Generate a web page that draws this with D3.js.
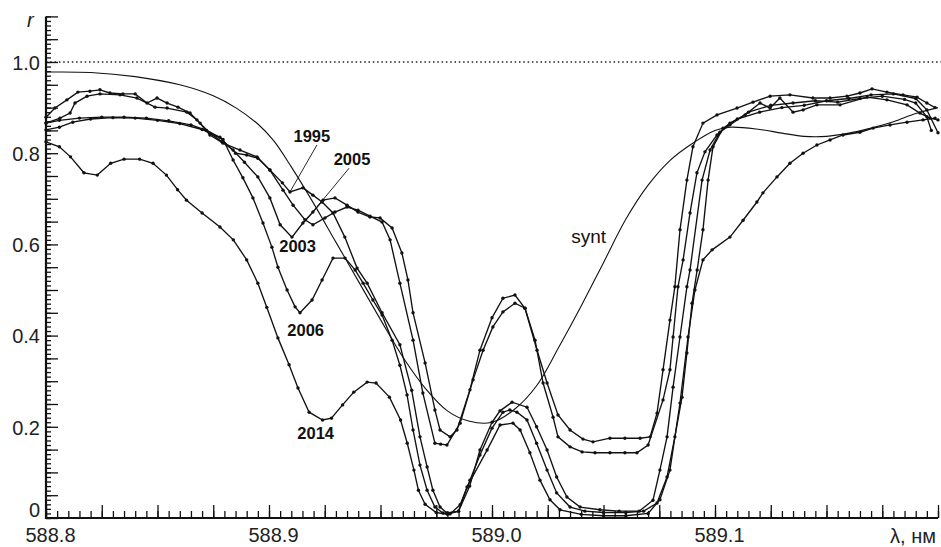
<!doctype html>
<html lang="en">
  <head>
    <meta charset="utf-8">
    <title>Na D line profiles</title>
    <script src="https://cdn.jsdelivr.net/npm/d3@7"></script>
    <style>
      body { margin: 0; background: #fff; }
      text { font-family: "Liberation Sans", Arial, sans-serif; }
    </style>
  </head>
  <body>
    <script>
      // wavelength (nm) and relative intensity for each year
      const lam1995 = [588.800, 588.806, 588.815, 588.825, 588.835, 588.845, 588.855, 588.865, 588.872, 588.878,
        588.885, 588.890, 588.895, 588.9004, 588.906, 588.9094, 588.9152, 588.9197, 588.9238, 588.9287,
        588.934, 588.9395, 588.944, 588.9507, 588.9587, 588.964, 588.9677, 588.9709, 588.9735, 588.9767,
        588.9798, 588.985, 588.990, 588.9946, 589.000, 589.0036, 589.009, 589.0157, 589.020, 589.0247,
        589.029, 589.0336, 589.0395, 589.0484, 589.057, 589.066, 589.0722, 589.0753, 589.0785, 589.0812,
        589.0843, 589.0874, 589.0888, 589.0942, 589.0978, 589.1022, 589.1067, 589.115, 589.125, 589.135,
        589.145, 589.155, 589.165, 589.175, 589.185, 589.190, 589.195, 589.197];
      const r1995 = [0.866, 0.872, 0.877, 0.879, 0.879, 0.877, 0.871, 0.862, 0.850, 0.835,
        0.800, 0.796, 0.789, 0.763, 0.735, 0.715, 0.724, 0.708, 0.693, 0.669,
        0.616, 0.548, 0.515, 0.450, 0.380, 0.280, 0.178, 0.112, 0.061, 0.024,
        0.011, 0.015, 0.070, 0.149, 0.210, 0.235, 0.254, 0.243, 0.200, 0.149,
        0.090, 0.046, 0.024, 0.018, 0.015, 0.015, 0.039, 0.105, 0.178, 0.287,
        0.397, 0.507, 0.544, 0.741, 0.807, 0.846, 0.862, 0.890, 0.905, 0.910,
        0.915, 0.912, 0.920, 0.925, 0.918, 0.910, 0.880, 0.850];

      const lam2003 = [588.800, 588.804, 588.8094, 588.8143, 588.8197, 588.8242, 588.8287, 588.8345, 588.840, 588.8453,
        588.8498, 588.8543, 588.8592, 588.8646, 588.8691, 588.8735, 588.8789, 588.8839, 588.889, 588.895,
        588.9004, 588.905, 588.9103, 588.9152, 588.9197, 588.9242, 588.9296, 588.935, 588.9399, 588.9453,
        588.9498, 588.9552, 588.9596, 588.9623, 588.9646, 588.970, 588.9744, 588.9767, 588.9812, 588.9843,
        588.9901, 588.9946, 589.000, 589.0049, 589.0103, 589.0148, 589.0202, 589.0247, 589.0296, 589.035,
        589.0408, 589.0453, 589.0529, 589.0596, 589.0664, 589.0709, 589.074, 589.0767, 589.0798, 589.082,
        589.0843, 589.0874, 589.0901, 589.0946, 589.1009, 589.1099, 589.117, 589.1247, 589.1336, 589.1439,
        589.1516, 589.1592, 589.165, 589.1704, 589.1771, 589.1843, 589.1906, 589.195, 589.1987];
      const r2003 = [0.879, 0.899, 0.917, 0.934, 0.936, 0.939, 0.932, 0.930, 0.930, 0.910,
        0.921, 0.910, 0.901, 0.888, 0.866, 0.844, 0.825, 0.807, 0.780, 0.748,
        0.702, 0.643, 0.616, 0.647, 0.671, 0.697, 0.702, 0.686, 0.671, 0.660,
        0.658, 0.636, 0.581, 0.522, 0.450, 0.340, 0.237, 0.193, 0.178, 0.193,
        0.281, 0.368, 0.439, 0.482, 0.489, 0.460, 0.368, 0.296, 0.226, 0.193,
        0.173, 0.167, 0.175, 0.175, 0.175, 0.178, 0.230, 0.325, 0.434, 0.507,
        0.632, 0.741, 0.814, 0.866, 0.884, 0.899, 0.912, 0.925, 0.928, 0.921,
        0.921, 0.925, 0.932, 0.941, 0.934, 0.928, 0.923, 0.910, 0.900];

      const lam2005 = [588.800, 588.8063, 588.8108, 588.813, 588.8184, 588.8242, 588.8332, 588.8408, 588.8489, 588.8543,
        588.8632, 588.8677, 588.8735, 588.8794, 588.887, 588.8946, 588.9004, 588.9063, 588.9108, 588.9161,
        588.9197, 588.9251, 588.9296, 588.935, 588.9399, 588.9453, 588.9507, 588.9543, 588.9587, 588.9646,
        588.969, 588.9744, 588.977, 588.9798, 588.9857, 588.9915, 588.996, 589.0004, 589.0049, 589.0103,
        589.0148, 589.0193, 589.0229, 589.0274, 589.0296, 589.035, 589.0404, 589.0462, 589.0529, 589.0596,
        589.065, 589.070, 589.0767, 589.0798, 589.0812, 589.0834, 589.0857, 589.0888, 589.0919, 589.0955,
        589.1009, 589.1067, 589.1135, 589.1202, 589.1247, 589.1291, 589.135, 589.1395, 589.1457, 589.1561,
        589.1682, 589.1771, 589.1861, 589.1919, 589.1964, 589.200];
      const r2005 = [0.866, 0.877, 0.888, 0.910, 0.925, 0.930, 0.928, 0.921, 0.901, 0.899,
        0.890, 0.873, 0.840, 0.822, 0.807, 0.792, 0.763, 0.719, 0.686, 0.654,
        0.643, 0.658, 0.671, 0.682, 0.675, 0.662, 0.649, 0.610, 0.515, 0.390,
        0.274, 0.164, 0.162, 0.160, 0.208, 0.303, 0.368, 0.419, 0.452, 0.471,
        0.460, 0.390, 0.296, 0.221, 0.178, 0.156, 0.145, 0.143, 0.143, 0.143,
        0.143, 0.160, 0.259, 0.325, 0.397, 0.507, 0.566, 0.669, 0.757, 0.803,
        0.840, 0.866, 0.884, 0.910, 0.899, 0.921, 0.890, 0.895, 0.906, 0.906,
        0.923, 0.917, 0.906, 0.888, 0.877, 0.873];

      const lam2006 = [588.800, 588.806, 588.812, 588.820, 588.830, 588.840, 588.850, 588.860, 588.870, 588.8794,
        588.8839, 588.8883, 588.8928, 588.8973, 588.9013, 588.904, 588.9081, 588.9117, 588.9139, 588.9193,
        588.9238, 588.9287, 588.9341, 588.9386, 588.9422, 588.9466, 588.9507, 588.9552, 588.9587, 588.9619,
        588.9646, 588.9677, 588.9709, 588.9744, 588.978, 588.9812, 588.9857, 588.9901, 588.9946, 589.000,
        589.0049, 589.008, 589.0112, 589.0157, 589.020, 589.0247, 589.029, 589.035, 589.0417, 589.050,
        589.060, 589.068, 589.074, 589.0785, 589.082, 589.0852, 589.0874, 589.0897, 589.092, 589.0946,
        589.0969, 589.0991, 589.1036, 589.110, 589.120, 589.130, 589.140, 589.150, 589.160, 589.170,
        589.180, 589.190, 589.195, 589.200];
      const r2006 = [0.851, 0.857, 0.868, 0.875, 0.878, 0.877, 0.872, 0.865, 0.852, 0.830,
        0.785, 0.746, 0.702, 0.647, 0.594, 0.550, 0.500, 0.463, 0.450, 0.478,
        0.522, 0.570, 0.570, 0.544, 0.515, 0.478, 0.445, 0.390, 0.335, 0.270,
        0.193, 0.116, 0.061, 0.024, 0.011, 0.009, 0.029, 0.083, 0.138, 0.197,
        0.232, 0.237, 0.232, 0.215, 0.164, 0.105, 0.055, 0.024, 0.015, 0.012,
        0.012, 0.015, 0.033, 0.090, 0.178, 0.265, 0.362, 0.471, 0.544, 0.632,
        0.741, 0.814, 0.855, 0.875, 0.890, 0.900, 0.905, 0.915, 0.920, 0.928,
        0.930, 0.920, 0.895, 0.845];

      const lam2014 = [588.800, 588.806, 588.811, 588.817, 588.823, 588.829, 588.835, 588.842, 588.848, 588.854,
        588.859, 588.863, 588.870, 588.878, 588.884, 588.890, 588.895, 588.899, 588.904, 588.909,
        588.913, 588.918, 588.924, 588.928, 588.933, 588.938, 588.944, 588.948, 588.954, 588.959,
        588.962, 588.965, 588.967, 588.970, 588.975, 588.980, 588.985, 588.9888, 588.9978, 589.0036,
        589.0094, 589.0126, 589.017, 589.0215, 589.026, 589.0305, 589.040, 589.050, 589.060, 589.070,
        589.0753, 589.0798, 589.0843, 589.0879, 589.091, 589.0946, 589.0987, 589.1067, 589.1126, 589.1188,
        589.1215, 589.1278, 589.1336, 589.1395, 589.1457, 589.1516, 589.1574, 589.165, 589.1709, 589.1785,
        589.1861, 589.1933, 589.1987];
      const r2014 = [0.825, 0.814, 0.792, 0.757, 0.752, 0.778, 0.787, 0.787, 0.778, 0.752,
        0.720, 0.697, 0.669, 0.638, 0.610, 0.566, 0.515, 0.462, 0.395, 0.336,
        0.285, 0.232, 0.215, 0.219, 0.248, 0.276, 0.298, 0.296, 0.265, 0.215,
        0.164, 0.105, 0.061, 0.030, 0.012, 0.008, 0.015, 0.068, 0.149, 0.204,
        0.208, 0.193, 0.143, 0.083, 0.040, 0.018, 0.008, 0.005, 0.005, 0.010,
        0.040, 0.105, 0.252, 0.397, 0.500, 0.566, 0.588, 0.616, 0.653, 0.693,
        0.713, 0.748, 0.778, 0.800, 0.818, 0.829, 0.840, 0.846, 0.855, 0.862,
        0.868, 0.873, 0.877];

      // synthetic profile
      const lamSynt = [588.80, 588.82, 588.84, 588.86, 588.875, 588.885, 588.895, 588.902, 588.91, 588.92,
        588.93, 588.94, 588.95, 588.96, 588.97, 588.98, 588.99, 589.00, 589.01, 589.02,
        589.03, 589.04, 589.05, 589.06, 589.07, 589.08, 589.09, 589.10, 589.107, 589.12,
        589.13, 589.14, 589.15, 589.16, 589.17, 589.18, 589.19, 589.20];
      const rSynt = [0.978, 0.977, 0.968, 0.950, 0.926, 0.900, 0.864, 0.828, 0.770, 0.690,
        0.605, 0.520, 0.435, 0.353, 0.285, 0.235, 0.212, 0.210, 0.238, 0.290,
        0.375, 0.465, 0.560, 0.655, 0.730, 0.785, 0.822, 0.850, 0.857, 0.852,
        0.844, 0.837, 0.837, 0.844, 0.855, 0.869, 0.887, 0.900];

      const xTicks = [588.8, 588.9, 589.0, 589.1];
      const yTicks = [0, 0.2, 0.4, 0.6, 0.8, 1.0];
      const yTickLabels = ["0", "0.2", "0.4", "0.6", "0.8", "1.0"];

      const series = [
        {name: "1995", lam: lam1995, r: r1995},
        {name: "2003", lam: lam2003, r: r2003},
        {name: "2005", lam: lam2005, r: r2005},
        {name: "2006", lam: lam2006, r: r2006},
        {name: "2014", lam: lam2014, r: r2014}
      ];

      // curve labels, in data coordinates; leader = [from, to]
      const notes = [
        {text: "1995", lam: 588.9110, r: 0.825, leader: [[588.9215, 0.818], [588.9094, 0.715]]},
        {text: "2005", lam: 588.9290, r: 0.774, leader: [[588.9359, 0.767], [588.9161, 0.650]]},
        {text: "2003", lam: 588.9046, r: 0.583},
        {text: "2006", lam: 588.9082, r: 0.399},
        {text: "2014", lam: 588.9127, r: 0.173}
      ];

      const w = 941;
      const h = 547;

      const x = d3.scaleLinear().domain([588.8, 589.2]).range([46, 938]);
      const y = d3.scaleLinear().domain([0, 1.1]).range([518, 16.4]);

      const svg = d3.select("body")
                    .append("svg")
                    .attr("width", w)
                    .attr("height", h);

      // dotted continuum level
      svg.append("line")
         .attr("x1", x(588.8)).attr("x2", w)
         .attr("y1", y(1)).attr("y2", y(1))
         .attr("stroke", "#222")
         .attr("stroke-width", 1.6)
         .attr("stroke-dasharray", "1.5,2.8");

      // y ticks (inward)
      const yMinor = d3.range(0, 111).map(i => i / 100);
      const yMid = yMinor.filter((v, i) => i % 5 === 0);
      svg.append("g")
         .attr("transform", "translate(" + x(588.8) + ",0)")
         .call(d3.axisRight(y).tickValues(yMinor).tickSize(5).tickFormat(""))
         .call(g => g.select(".domain").remove());
      svg.append("g")
         .attr("transform", "translate(" + x(588.8) + ",0)")
         .call(d3.axisRight(y).tickValues(yMid).tickSize(12).tickFormat(""))
         .call(g => g.select(".domain").remove());

      const yLab = svg.append("g")
         .attr("transform", "translate(" + x(588.8) + ",0)")
         .call(d3.axisLeft(y).tickValues(yTicks).tickSize(0).tickPadding(6)
                 .tickFormat((d, i) => yTickLabels[i]));
      yLab.select(".domain").remove();
      yLab.selectAll("text")
          .attr("font-size", 20)
          .attr("fill", "#222")
          .attr("font-family", "Liberation Sans, Arial, sans-serif")
          .attr("dy", d => d === 0 ? "-0.1em" : "0.36em");

      // x ticks (inward)
      const xMinor = d3.range(0, 81).map(i => 588.8 + i * 0.005);
      const xMid = xMinor.filter((v, i) => i % 5 === 0);
      svg.append("g")
         .attr("transform", "translate(0," + y(0) + ")")
         .call(d3.axisTop(x).tickValues(xMinor).tickSize(7).tickFormat(""))
         .call(g => g.select(".domain").remove());
      svg.append("g")
         .attr("transform", "translate(0," + y(0) + ")")
         .call(d3.axisTop(x).tickValues(xMid).tickSize(13).tickFormat(""))
         .call(g => g.select(".domain").remove());

      const xLab = svg.append("g")
         .attr("transform", "translate(0," + y(0) + ")")
         .call(d3.axisBottom(x).tickValues(xTicks).tickSize(0).tickPadding(10)
                 .tickFormat(d => d.toFixed(1)));
      xLab.select(".domain").remove();
      xLab.selectAll("text")
          .attr("font-size", 20)
          .attr("fill", "#222")
          .attr("font-family", "Liberation Sans, Arial, sans-serif")
          .attr("dx", 4);

      svg.selectAll(".tick line")
         .attr("stroke", "#111")
         .attr("stroke-width", 1.3);

      // axis lines
      svg.append("line")
         .attr("x1", x(588.8)).attr("x2", x(588.8))
         .attr("y1", y(0) + 1).attr("y2", y(1.1))
         .attr("stroke", "#111").attr("stroke-width", 2.2);
      svg.append("line")
         .attr("x1", x(588.8) - 1).attr("x2", x(589.2))
         .attr("y1", y(0)).attr("y2", y(0))
         .attr("stroke", "#111").attr("stroke-width", 2.2);

      svg.append("text")
         .attr("x", 27).attr("y", 27)
         .attr("font-size", 20)
         .attr("font-style", "italic")
         .attr("fill", "#222")
         .text("r");
      svg.append("text")
         .attr("x", x(589.2) - 2).attr("y", 543)
         .attr("text-anchor", "end")
         .attr("font-size", 20)
         .attr("fill", "#222")
         .text("λ, нм");

      const line = d3.line()
                     .x(d => x(d[0]))
                     .y(d => y(d[1]));

      // synthetic profile, smooth thin line
      svg.append("path")
         .datum(d3.zip(lamSynt, rSynt))
         .attr("fill", "none")
         .attr("stroke", "#111")
         .attr("stroke-width", 1.1)
         .attr("d", line.curve(d3.curveCatmullRom.alpha(0.5)));

      line.curve(d3.curveLinear);

      series.forEach(s => {
        const pts = d3.zip(s.lam, s.r);
        svg.append("path")
           .datum(pts)
           .attr("fill", "none")
           .attr("stroke", "#111")
           .attr("stroke-width", 1.35)
           .attr("d", line);
        svg.append("g")
           .selectAll("circle")
           .data(pts)
           .enter()
           .append("circle")
           .attr("cx", d => x(d[0]))
           .attr("cy", d => y(d[1]))
           .attr("r", 1.7)
           .attr("fill", "#111");
      });

      // labels
      notes.forEach(n => {
        svg.append("text")
           .attr("x", x(n.lam)).attr("y", y(n.r))
           .attr("font-size", 16.5)
           .attr("font-weight", "bold")
           .attr("fill", "#111")
           .text(n.text);
        if (n.leader) {
          svg.append("line")
             .attr("x1", x(n.leader[0][0])).attr("y1", y(n.leader[0][1]))
             .attr("x2", x(n.leader[1][0])).attr("y2", y(n.leader[1][1]))
             .attr("stroke", "#111")
             .attr("stroke-width", 0.9);
        }
      });

      svg.append("text")
         .attr("x", x(589.0355)).attr("y", y(0.603))
         .attr("font-size", 19)
         .attr("fill", "#111")
         .text("synt");
    </script>
  </body>
</html>
